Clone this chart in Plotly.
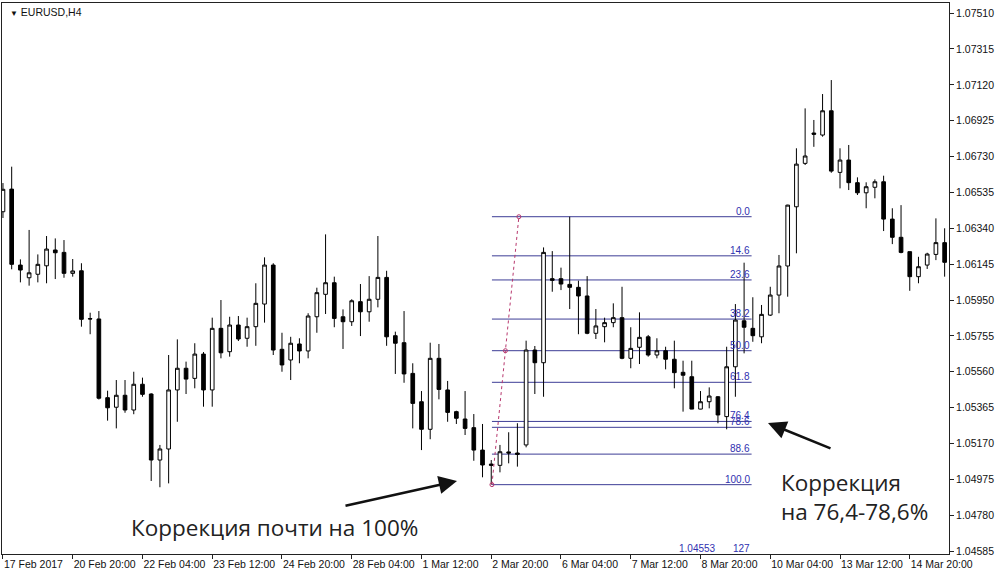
import plotly.graph_objects as go

# EURUSD H4, one entry per bar starting 17 Feb 2017 12:00
open_ = [
    1.06430, 1.06553, 1.06140, 1.06071, 1.06090, 1.06136, 1.06222, 1.06209, 1.06095, 1.06109,
    1.05849, 1.05847, 1.05419, 1.05367, 1.05432, 1.05352, 1.05492, 1.05439, 1.05080, 1.05140,
    1.05461, 1.05579, 1.05524, 1.05656, 1.05461, 1.05796, 1.05669, 1.05814, 1.05742, 1.05805,
    1.05928, 1.06140, 1.05682, 1.05624, 1.05711, 1.05673, 1.05859, 1.05981, 1.06044, 1.05859,
    1.05832, 1.05941, 1.05886, 1.05954, 1.06073, 1.05756, 1.05718, 1.05551, 1.05397, 1.05247,
    1.05633, 1.05461, 1.05343, 1.05303, 1.05256, 1.05134, 1.05058, 1.05051, 1.05124, 1.05118,
    1.05162, 1.05678, 1.05609, 1.06066, 1.06066, 1.06035, 1.06019, 1.05972, 1.05769, 1.05805,
    1.05827, 1.05854, 1.05633, 1.05693, 1.05750, 1.05651, 1.05674, 1.05628, 1.05557, 1.05533,
    1.05357, 1.05397, 1.05424, 1.05316, 1.05587, 1.05837, 1.05796, 1.05750, 1.05868, 1.05977,
    1.06135, 1.06457, 1.06693, 1.06858, 1.06847, 1.06979, 1.06644, 1.06711, 1.06588, 1.06533,
    1.06563, 1.06593, 1.06390, 1.06291, 1.06213, 1.06077, 1.06140, 1.06198, 1.06262,
]
high = [
    1.06586, 1.06675, 1.06171, 1.06331, 1.06198, 1.06298, 1.06285, 1.06276, 1.06173, 1.06150,
    1.05881, 1.05890, 1.05457, 1.05515, 1.05515, 1.05560, 1.05528, 1.05443, 1.05162, 1.05651,
    1.05736, 1.05615, 1.05715, 1.05667, 1.05854, 1.05950, 1.05859, 1.05863, 1.05854, 1.06041,
    1.06182, 1.06150, 1.05772, 1.05750, 1.05742, 1.05878, 1.06017, 1.06307, 1.06077, 1.05899,
    1.05954, 1.06037, 1.06080, 1.06298, 1.06109, 1.05778, 1.05890, 1.05606, 1.05455, 1.05718,
    1.05711, 1.05510, 1.05348, 1.05455, 1.05330, 1.05276, 1.05080, 1.05162, 1.05231, 1.05280,
    1.05729, 1.05700, 1.06236, 1.06216, 1.06126, 1.06403, 1.06055, 1.06080, 1.05901, 1.05854,
    1.05932, 1.06022, 1.05802, 1.05883, 1.05760, 1.05742, 1.05696, 1.05729, 1.05620, 1.05620,
    1.05455, 1.05475, 1.05428, 1.05696, 1.05928, 1.06153, 1.05965, 1.05923, 1.06022, 1.06195,
    1.06468, 1.06775, 1.06992, 1.06929, 1.07070, 1.07146, 1.06775, 1.06793, 1.06617, 1.06590,
    1.06606, 1.06626, 1.06449, 1.06466, 1.06213, 1.06185, 1.06207, 1.06394, 1.06340,
]
low = [
    1.06396, 1.06117, 1.06046, 1.06028, 1.06046, 1.06041, 1.06064, 1.06071, 1.06077, 1.05805,
    1.05764, 1.05409, 1.05294, 1.05252, 1.05337, 1.05329, 1.05424, 1.04966, 1.04932, 1.04953,
    1.05288, 1.05439, 1.05470, 1.05370, 1.05370, 1.05633, 1.05642, 1.05727, 1.05696, 1.05701,
    1.05827, 1.05651, 1.05560, 1.05515, 1.05606, 1.05633, 1.05772, 1.05874, 1.05802, 1.05684,
    1.05809, 1.05754, 1.05832, 1.05910, 1.05701, 1.05548, 1.05500, 1.05252, 1.05134, 1.05193,
    1.05410, 1.05288, 1.05276, 1.05216, 1.05076, 1.04986, 1.04946, 1.05013, 1.05062, 1.05044,
    1.05149, 1.05439, 1.05424, 1.05995, 1.06004, 1.05901, 1.05764, 1.05764, 1.05738, 1.05720,
    1.05802, 1.05628, 1.05579, 1.05602, 1.05642, 1.05633, 1.05573, 1.05470, 1.05343, 1.05356,
    1.05356, 1.05361, 1.05280, 1.05247, 1.05424, 1.05660, 1.05723, 1.05715, 1.05863, 1.05878,
    1.05968, 1.06204, 1.06684, 1.06783, 1.06838, 1.06642, 1.06557, 1.06548, 1.06521, 1.06449,
    1.06503, 1.06325, 1.06254, 1.06204, 1.06000, 1.06041, 1.06119, 1.06167, 1.06077,
]
close = [
    1.06552, 1.06144, 1.06113, 1.06098, 1.06144, 1.06227, 1.06207, 1.06095, 1.06108, 1.05845,
    1.05847, 1.05416, 1.05364, 1.05432, 1.05352, 1.05492, 1.05437, 1.05080, 1.05140, 1.05461,
    1.05579, 1.05520, 1.05656, 1.05461, 1.05796, 1.05663, 1.05814, 1.05738, 1.05805, 1.05932,
    1.06140, 1.05678, 1.05597, 1.05715, 1.05673, 1.05863, 1.05990, 1.06044, 1.05850, 1.05832,
    1.05946, 1.05886, 1.05954, 1.06073, 1.05750, 1.05715, 1.05548, 1.05388, 1.05247, 1.05633,
    1.05464, 1.05339, 1.05307, 1.05252, 1.05134, 1.05053, 1.05051, 1.05125, 1.05118, 1.05111,
    1.05678, 1.05609, 1.06209, 1.06057, 1.06037, 1.06019, 1.05972, 1.05769, 1.05809, 1.05827,
    1.05854, 1.05633, 1.05687, 1.05747, 1.05651, 1.05674, 1.05628, 1.05555, 1.05541, 1.05357,
    1.05397, 1.05428, 1.05325, 1.05587, 1.05841, 1.05802, 1.05756, 1.05872, 1.05977, 1.06135,
    1.06466, 1.06689, 1.06733, 1.06851, 1.06979, 1.06651, 1.06711, 1.06588, 1.06533, 1.06566,
    1.06593, 1.06390, 1.06291, 1.06209, 1.06077, 1.06131, 1.06200, 1.06262, 1.06155,
]

time_labels = [
    "17 Feb 2017", "20 Feb 20:00", "22 Feb 04:00", "23 Feb 12:00", "24 Feb 20:00",
    "28 Feb 04:00", "1 Mar 12:00", "2 Mar 20:00", "6 Mar 04:00", "7 Mar 12:00",
    "8 Mar 20:00", "10 Mar 04:00", "13 Mar 12:00", "14 Mar 20:00",
]
price_ticks = [
    1.04585, 1.04780, 1.04975, 1.05170, 1.05365, 1.05560, 1.05755, 1.05950,
    1.06145, 1.06340, 1.06535, 1.06730, 1.06925, 1.07120, 1.07315, 1.07510,
]

# Fibonacci retracement drawn on the chart
fib_high = 1.06403
fib_low = 1.04946
fib_levels = [0.0, 14.6, 23.6, 38.2, 50.0, 61.8, 76.4, 78.6, 88.6, 100.0]
fib_ext = 127.0

W, H = 1000, 574
L, R, T, B = 2, 949, 3, 554
FIB_X0, FIB_X1 = 56.08, 85.86
FIB_LINE = "#3d3d96"
FIB_TEXT = "#3030b0"
FIB_FONT = dict(family="Liberation Sans, Arial", size=10, color=FIB_TEXT)
AX_FONT = dict(family="Liberation Sans, Arial", size=10.5, color="#111")


def paper(x, y):
    return (x - L) / (R - L), (B - y) / (B - T)


bars = list(range(len(open_)))

fig = go.Figure()
fig.add_trace(
    go.Candlestick(
        x=bars,
        open=open_,
        high=high,
        low=low,
        close=close,
        increasing=dict(line=dict(color="#000", width=1), fillcolor="#ffffff"),
        decreasing=dict(line=dict(color="#000", width=1), fillcolor="#000000"),
        whiskerwidth=0,
        hoverinfo="skip",
        showlegend=False,
    )
)

# dotted trend line of the fibo tool
fig.add_trace(
    go.Scatter(
        x=[FIB_X0, (FIB_X0 + 59.17) / 2, 59.17],
        y=[fib_low, (fib_low + fib_high) / 2, fib_high],
        mode="lines+markers",
        line=dict(color="#b8386e", width=1, dash="dot"),
        marker=dict(symbol="circle-open", size=4, color="#b8386e"),
        hoverinfo="skip",
        showlegend=False,
    )
)

shapes = []
annotations = []
span = fib_high - fib_low
for lvl in fib_levels:
    price = fib_high - lvl / 100 * span
    shapes.append(
        dict(type="line", xref="x", yref="y", x0=FIB_X0, x1=FIB_X1, y0=price, y1=price,
             line=dict(color=FIB_LINE, width=1), layer="below")
    )
    annotations.append(
        dict(x=FIB_X1, y=price, xref="x", yref="y", text=f"{lvl:.1f}", showarrow=False,
             xanchor="right", yanchor="bottom", yshift=-2, font=FIB_FONT)
    )

# 127% level lies below the visible range; MT4 still prints its label at the bottom
ext_price = fib_high - fib_ext / 100 * span
ex, ey = paper(752, 548)
annotations.append(
    dict(x=ex, y=ey, xref="paper", yref="paper", text=f"{fib_ext:.0f}", showarrow=False,
         xanchor="right", yanchor="middle", font=FIB_FONT)
)
ex, ey = paper(718, 548)
annotations.append(
    dict(x=ex, y=ey, xref="paper", yref="paper", text=f"{ext_price:.5f}", showarrow=False,
         xanchor="right", yanchor="middle", font=FIB_FONT)
)

# chart caption
px_, py_ = paper(8, 12)
annotations.append(
    dict(x=px_, y=py_, xref="paper", yref="paper", showarrow=False, xanchor="left",
         yanchor="middle",
         text="<span style='font-size:8px'>▼</span> EURUSD,H4",
         font=dict(family="Liberation Sans, Arial", size=10.5, color="#111"))
)

# arrows
for head, tail in [((457, 481), (344, 506)), ((768, 423), (832, 449))]:
    hx, hy = paper(*head)
    annotations.append(
        dict(x=hx, y=hy, xref="paper", yref="paper", text="", showarrow=True,
             ax=tail[0] - head[0], ay=tail[1] - head[1], arrowhead=2, arrowsize=1.4,
             arrowwidth=2.6, arrowcolor="#111")
    )

tx, ty = paper(274, 527)
annotations.append(
    dict(x=tx, y=ty, xref="paper", yref="paper", showarrow=False, xanchor="center",
         yanchor="middle", text="Коррекция почти на 100%",
         font=dict(family="Open Sans, Noto Sans", size=22.5, color="#222"))
)
tx, ty = paper(779, 497)
annotations.append(
    dict(x=tx, y=ty, xref="paper", yref="paper", showarrow=False, xanchor="left",
         yanchor="middle", align="left", text="Коррекция<br>на 76,4-78,6%",
         font=dict(family="Open Sans, Noto Sans", size=22.5, color="#222"))
)

fig.update_layout(
    width=W,
    height=H,
    margin=dict(l=L, r=W - R, t=T, b=H - B, pad=0),
    paper_bgcolor="white",
    plot_bgcolor="white",
    boxgap=0.4,
    hovermode=False,
    shapes=shapes,
    annotations=annotations,
    xaxis=dict(
        range=[-0.11, 108.5],
        rangeslider=dict(visible=False),
        showgrid=False,
        zeroline=False,
        showline=True,
        mirror=True,
        linecolor="#222",
        linewidth=1,
        ticks="outside",
        ticklen=4,
        tickcolor="#222",
        tickvals=list(range(0, 8 * len(time_labels), 8)),
        ticktext=time_labels,
        tickangle=0,
        ticklabelposition="outside right",
        tickfont=AX_FONT,
    ),
    yaxis=dict(
        range=[1.04569, 1.07565],
        side="right",
        showgrid=False,
        zeroline=False,
        showline=True,
        mirror=True,
        linecolor="#222",
        linewidth=1,
        ticks="outside",
        ticklen=4,
        tickcolor="#222",
        tickvals=price_ticks,
        ticktext=[f"{v:.5f}" for v in price_ticks],
        tickfont=AX_FONT,
    ),
)

fig.write_html(
    "out.html",
    config={"displayModeBar": False},
    post_script="document.body.style.margin='0';",
)
